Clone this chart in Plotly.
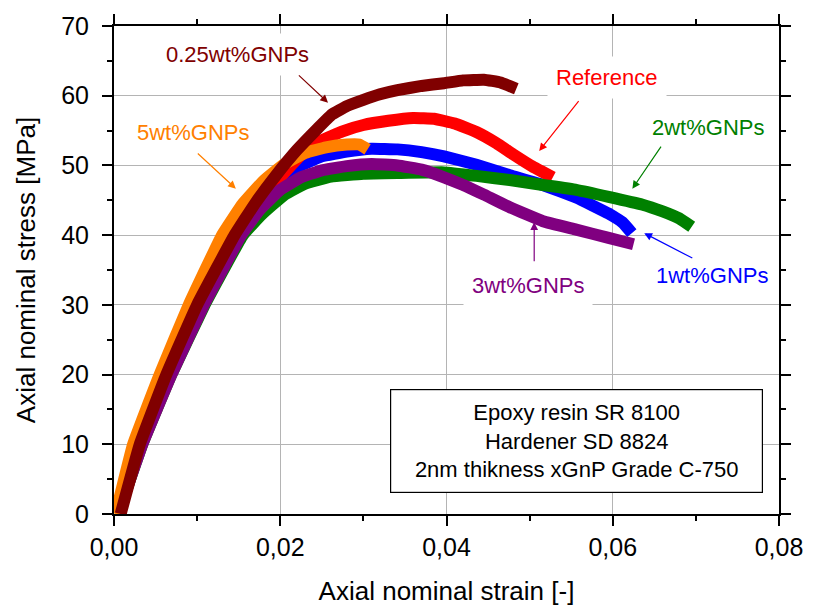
import plotly.graph_objects as go

# ---------------- data ----------------
strain_025 = [0.0008, 0.0031, 0.0063, 0.0100, 0.0145, 0.0170, 0.0195, 0.0220, 0.0245, 0.0262,
              0.0280, 0.0300, 0.0320, 0.0341, 0.0370, 0.0397, 0.0420, 0.0445, 0.0465, 0.0484]
stress_025 = [0.0, 10.0, 20.0, 30.0, 40.0, 44.6, 48.6, 52.2, 55.3, 57.3,
              58.5, 59.4, 60.2, 60.8, 61.4, 61.8, 62.2, 62.3, 61.9, 61.0]

strain_ref = [0.0005, 0.0033, 0.0068, 0.0107, 0.0150, 0.0175, 0.0200, 0.0225, 0.0250, 0.0275,
              0.0300, 0.0330, 0.0360, 0.0385, 0.0410, 0.0436, 0.0460, 0.0480, 0.0504, 0.0528]
stress_ref = [0.0, 10.0, 20.0, 30.0, 40.0, 44.5, 48.3, 51.5, 53.6, 54.9,
              55.8, 56.4, 56.8, 56.7, 56.0, 54.8, 53.2, 51.6, 49.8, 48.3]

strain_1 = [0.0005, 0.0033, 0.0068, 0.0107, 0.0152, 0.0175, 0.0200, 0.0225, 0.0250, 0.0280,
            0.0310, 0.0341, 0.0370, 0.0397, 0.0436, 0.0476, 0.0516, 0.0556, 0.0595, 0.0612, 0.0623]
stress_1 = [0.0, 10.0, 20.0, 30.0, 40.0, 44.2, 47.6, 50.0, 51.3, 52.0,
            52.4, 52.3, 51.9, 51.3, 50.1, 48.6, 47.2, 45.4, 43.1, 41.8, 40.3]

strain_2 = [0.0005, 0.0034, 0.0069, 0.0109, 0.0155, 0.0178, 0.0205, 0.0230, 0.0261, 0.0300,
            0.0341, 0.0397, 0.0436, 0.0476, 0.0516, 0.0556, 0.0595, 0.0635, 0.0660, 0.0680, 0.0695]
stress_2 = [0.0, 10.0, 20.0, 30.0, 40.0, 43.0, 45.8, 47.4, 48.4, 48.8,
            48.9, 49.0, 48.5, 47.9, 47.2, 46.5, 45.5, 44.4, 43.4, 42.4, 41.2]

strain_3 = [0.0005, 0.0034, 0.0069, 0.0108, 0.0153, 0.0175, 0.0200, 0.0225, 0.0250, 0.0280,
            0.0310, 0.0341, 0.0370, 0.0397, 0.0420, 0.0445, 0.0476, 0.0516, 0.0556, 0.0595, 0.0625]
stress_3 = [0.0, 10.0, 20.0, 30.0, 40.0, 43.6, 46.5, 48.3, 49.3, 49.9,
            50.2, 50.0, 49.4, 48.3, 47.2, 45.8, 44.0, 42.0, 40.8, 39.6, 38.7]

strain_5 = [0.0002, 0.0023, 0.0055, 0.0090, 0.0130, 0.0155, 0.0180, 0.0205, 0.0230, 0.0255,
            0.0280, 0.0295, 0.0305]
stress_5 = [0.0, 10.0, 20.0, 30.0, 40.0, 44.5, 47.8, 50.2, 51.8, 52.6,
            53.0, 53.0, 52.3]

series = [  # drawn bottom to top
    ("1wt%GNPs", strain_1, stress_1, "#0000ff"),
    ("Reference", strain_ref, stress_ref, "#ff0000"),
    ("2wt%GNPs", strain_2, stress_2, "#008000"),
    ("3wt%GNPs", strain_3, stress_3, "#800080"),
    ("5wt%GNPs", strain_5, stress_5, "#ff8000"),
    ("0.25wt%GNPs", strain_025, stress_025, "#800000"),
]

FONT = "Liberation Sans, Arial, sans-serif"

fig = go.Figure()
for name, xs, ys, col in series:
    fig.add_trace(go.Scatter(x=xs, y=ys, mode="lines", name=name,
                             line=dict(color=col, width=12, shape="spline", smoothing=0.3),
                             showlegend=False))

# ---------------- labels with arrows ----------------
labels = [
    # text, colour, text x, text y, arrow tail x, tail y, head x, head y
    ("0.25wt%GNPs", "#800000", 0.0149, 65.86, 0.02206, 63.12, 0.02575, 59.0),
    ("5wt%GNPs", "#ff8000", 0.00948, 54.75, 0.0099, 51.9, 0.01466, 46.67),
    ("Reference", "#ff0000", 0.05925, 62.55, 0.05604, 59.43, 0.05115, 52.06),
    ("2wt%GNPs", "#008000", 0.07142, 55.46, 0.06593, 52.9, 0.06236, 46.67),
    ("1wt%GNPs", "#0000ff", 0.0719, 34.18, 0.06975, 36.6, 0.06379, 40.28),
    ("3wt%GNPs", "#800080", 0.04984, 32.77, 0.05055, 36.03, 0.05055, 41.84),
]
for txt, col, tx, ty, ax, ay, hx, hy in labels:
    fig.add_annotation(x=tx, y=ty, xref="x", yref="y", text=txt, showarrow=False,
                       font=dict(family=FONT, size=22, color=col),
                       bgcolor="white", borderpad=8)
    fig.add_annotation(x=hx, y=hy, ax=ax, ay=ay, xref="x", yref="y", axref="x", ayref="y",
                       text="", showarrow=True, arrowhead=2, arrowsize=1.3,
                       arrowwidth=1.2, arrowcolor=col)

fig.add_annotation(x=0.0556, y=10.5, xref="x", yref="y",
                   text="Epoxy resin SR 8100<br>Hardener SD 8824<br>2nm thikness xGnP Grade C-750",
                   showarrow=False, font=dict(family=FONT, size=22, color="black"),
                   bgcolor="white", bordercolor="black", borderwidth=1.2,
                   width=355, height=86, borderpad=8, align="center")

axis_common = dict(
    showline=True, linecolor="black", linewidth=2, mirror="ticks",
    ticks="outside", tickcolor="black", tickwidth=2, ticklen=10,
    showgrid=True, gridcolor="#b4b4b4", gridwidth=1.2, zeroline=False,
    tickfont=dict(family=FONT, size=25, color="black"),
)

fig.update_xaxes(range=[0, 0.08], dtick=0.02, tick0=0, tickformat=".2f",
                 minor=dict(dtick=0.01, ticks="outside", ticklen=5, tickcolor="black", tickwidth=1.5,
                            showgrid=False),
                 title=dict(text="Axial nominal strain [-]", font=dict(family=FONT, size=26, color="black"),
                            standoff=22),
                 **axis_common)
fig.update_yaxes(range=[0, 70], dtick=10, tick0=0, ticklabelstandoff=8,
                 minor=dict(dtick=5, ticks="outside", ticklen=5, tickcolor="black", tickwidth=1.5,
                            showgrid=False),
                 title=dict(text="Axial nominal stress [MPa]", font=dict(family=FONT, size=26, color="black"),
                            standoff=18),
                 **axis_common)

fig.update_layout(
    width=815, height=613,
    margin=dict(l=114, r=30, t=22, b=97),
    paper_bgcolor="white", plot_bgcolor="white",
    separators=",.",
    font=dict(family=FONT),
)

fig.write_html("out.html")
